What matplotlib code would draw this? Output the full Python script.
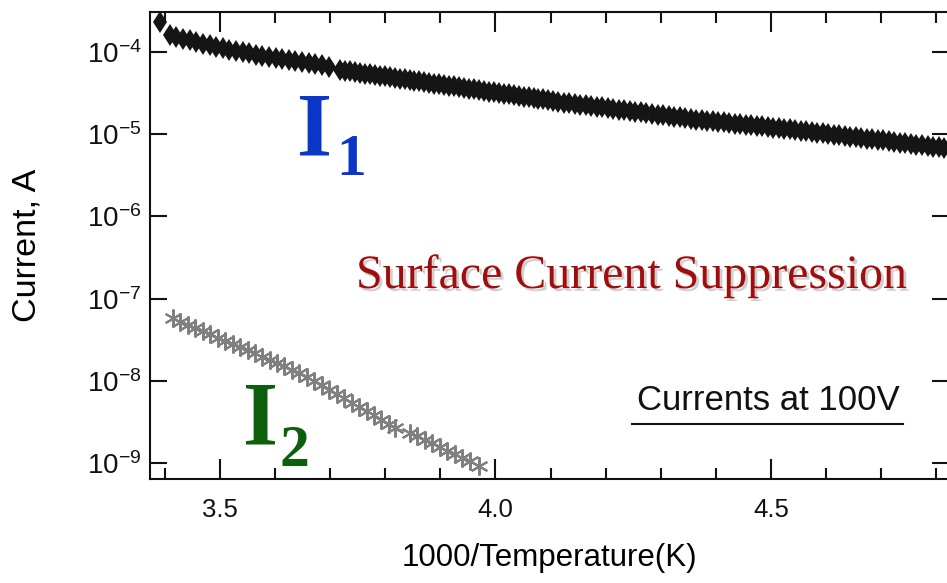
import numpy as np
import matplotlib
matplotlib.use('Agg')
import matplotlib.pyplot as plt
import matplotlib.patheffects as pe
from matplotlib.ticker import MultipleLocator, FixedLocator, NullLocator

plt.rcParams['font.family'] = ['Liberation Sans', 'DejaVu Sans']
plt.rcParams['mathtext.fontset'] = 'custom'
plt.rcParams['mathtext.rm'] = 'Liberation Sans'
plt.rcParams['mathtext.it'] = 'Liberation Sans:italic'
plt.rcParams['mathtext.bf'] = 'Liberation Sans:bold'

# I1 (surface + bulk current): x = 1000/T, log10 of current in A
temp_i1 = [3.391,
           3.409, 3.421, 3.433, 3.445, 3.457, 3.469, 3.481, 3.493, 3.505, 3.517,
           3.529, 3.541, 3.553, 3.565, 3.577, 3.589, 3.601, 3.613, 3.625, 3.637,
           3.649, 3.661, 3.673, 3.685, 3.697,
           3.718, 3.727, 3.736, 3.745, 3.754, 3.763, 3.772, 3.781, 3.790, 3.799,
           3.808, 3.817, 3.826, 3.835, 3.844, 3.853, 3.862, 3.871, 3.880, 3.889,
           3.898, 3.907, 3.916, 3.925, 3.934, 3.943, 3.952, 3.961, 3.970, 3.979,
           3.988, 3.997, 4.006, 4.015, 4.024, 4.033, 4.042, 4.051, 4.060, 4.069,
           4.078, 4.087, 4.096, 4.105, 4.114,
           4.124, 4.134, 4.144, 4.154, 4.164, 4.174, 4.184, 4.194, 4.204, 4.214,
           4.224, 4.234, 4.244, 4.254, 4.264, 4.274, 4.284, 4.294, 4.304, 4.314,
           4.324, 4.334, 4.344, 4.354, 4.364, 4.374, 4.384, 4.394, 4.404, 4.414,
           4.424, 4.434, 4.444, 4.454, 4.464, 4.474, 4.484, 4.494, 4.504, 4.514,
           4.524, 4.534, 4.544, 4.554, 4.564, 4.574, 4.584, 4.594, 4.604, 4.614,
           4.624, 4.634, 4.644, 4.654, 4.664, 4.674, 4.684, 4.694, 4.704, 4.714,
           4.724, 4.734, 4.744, 4.754, 4.764, 4.774, 4.784, 4.794, 4.804, 4.814]
log_i1 = [-3.635,
          -3.793, -3.815, -3.836, -3.857, -3.877, -3.897, -3.917, -3.936, -3.955, -3.974,
          -3.988, -4.002, -4.016, -4.030, -4.044, -4.058, -4.072, -4.085, -4.098, -4.111,
          -4.124, -4.137, -4.150, -4.163, -4.176,
          -4.219, -4.228, -4.236, -4.245, -4.254, -4.262, -4.271, -4.280, -4.289, -4.297,
          -4.306, -4.315, -4.323, -4.332, -4.341, -4.349, -4.358, -4.367, -4.376, -4.384,
          -4.393, -4.402, -4.410, -4.419, -4.428, -4.436, -4.445, -4.454, -4.463, -4.471,
          -4.480, -4.489, -4.497, -4.506, -4.515, -4.523, -4.532, -4.541, -4.550, -4.558,
          -4.567, -4.576, -4.584, -4.593, -4.602,
          -4.614, -4.623, -4.631, -4.640, -4.648, -4.657, -4.666, -4.674, -4.683, -4.691,
          -4.700, -4.709, -4.717, -4.726, -4.735, -4.743, -4.752, -4.760, -4.769, -4.778,
          -4.786, -4.795, -4.803, -4.812, -4.821, -4.829, -4.836, -4.843, -4.850, -4.856,
          -4.863, -4.870, -4.877, -4.884, -4.890, -4.897, -4.904, -4.911, -4.918, -4.924,
          -4.932, -4.940, -4.948, -4.956, -4.964, -4.972, -4.980, -4.988, -4.996, -5.004,
          -5.012, -5.020, -5.028, -5.036, -5.044, -5.052, -5.060, -5.068, -5.076, -5.084,
          -5.093, -5.101, -5.109, -5.117, -5.125, -5.134, -5.142, -5.150, -5.158, -5.166]

# I2 (guard ring current)
temp_i2 = [3.415, 3.428, 3.442, 3.455, 3.469, 3.482, 3.496, 3.509, 3.523, 3.536,
           3.550, 3.563, 3.577, 3.590, 3.604, 3.617, 3.631, 3.644,
           3.658, 3.671, 3.685, 3.698, 3.712, 3.725, 3.739, 3.752, 3.766, 3.779,
           3.793, 3.806, 3.818,
           3.845, 3.858, 3.872, 3.885, 3.899, 3.912, 3.926, 3.939, 3.953, 3.970]
log_i2 = [-7.241, -7.278, -7.319, -7.356, -7.397, -7.434, -7.474, -7.512, -7.552, -7.590,
          -7.630, -7.667, -7.708, -7.745, -7.786, -7.823, -7.863, -7.901,
          -7.952, -8.002, -8.056, -8.106, -8.161, -8.211, -8.265, -8.315, -8.369, -8.419,
          -8.474, -8.524, -8.573,
          -8.634, -8.676, -8.720, -8.761, -8.806, -8.848, -8.893, -8.934, -8.979, -9.035]

y_ticks = [1e-9, 1e-8, 1e-7, 1e-6, 1e-5, 1e-4]

current_i1 = 10.0 ** np.array(log_i1)
current_i2 = 10.0 ** np.array(log_i2)

W, H = 947, 583
fig = plt.figure(figsize=(W / 100, H / 100), dpi=100)
ax = fig.add_axes([150 / W, 1 - 479 / H, (949 - 150) / W, (479 - 12) / H])

ax.plot(temp_i1, current_i1, linestyle='none', marker='d', markersize=11.5,
        color='#151515', markeredgewidth=0)
ax.plot(temp_i2, current_i2, linestyle='-', linewidth=1, color='#808080',
        marker=(6, 2, 0), markersize=13, markeredgewidth=1.5)

ax.set_yscale('log')
ax.set_xlim(3.373, 4.823)
ax.set_ylim(6.4e-10, 3.07e-4)

ax.xaxis.set_major_locator(MultipleLocator(0.5))
ax.xaxis.set_minor_locator(MultipleLocator(0.1))
ax.yaxis.set_major_locator(FixedLocator(y_ticks))
ax.yaxis.set_minor_locator(NullLocator())
ax.xaxis.set_major_formatter(plt.FuncFormatter(lambda v, p: f'{v:.1f}'))

ax.tick_params(axis='both', which='both', direction='in', top=True, right=True,
               width=1.5, colors='#111111')
ax.tick_params(axis='x', which='major', length=14.5, pad=14, labelsize=18.5)
ax.tick_params(axis='x', which='minor', length=8)
ax.tick_params(axis='y', which='major', length=12, pad=6, labelsize=20)
for s in ax.spines.values():
    s.set_linewidth(1.5)
    s.set_color('#111111')

ax.set_xlabel('1000/Temperature(K)', fontsize=22.5, labelpad=15)
ax.set_ylabel('Current, A', fontsize=24.5)
ax.yaxis.set_label_coords(-0.134, 0.5)


def fx(px):
    return px / W


def fy(py):
    return 1 - py / H


serif = ['Liberation Serif', 'DejaVu Serif']
fig.text(fx(297), fy(155), 'I', fontsize=65, fontweight='bold', family=serif, color='#0a37c8')
fig.text(fx(336), fy(175), '1', fontsize=43, fontweight='bold', family=serif, color='#0a37c8')
fig.text(fx(243), fy(445), 'I', fontsize=65, fontweight='bold', family=serif, color='#0d5e0d')
fig.text(fx(279), fy(466), '2', fontsize=43, fontweight='bold', family=serif, color='#0d5e0d')

fig.text(fx(356), fy(288), 'Surface Current Suppression', fontsize=34.5, family=serif,
         color='#a00d0d',
         path_effects=[pe.withSimplePatchShadow(offset=(2, -2), shadow_rgbFace='#b0b0b0', alpha=0.6)])

fig.text(fx(637), fy(410), 'Currents at 100V', fontsize=25, color='#111111')
fig.add_artist(plt.Line2D([fx(632), fx(903)], [fy(424), fy(424)], linewidth=1.5, color='#111111'))

fig.savefig('out.png', dpi=100)
